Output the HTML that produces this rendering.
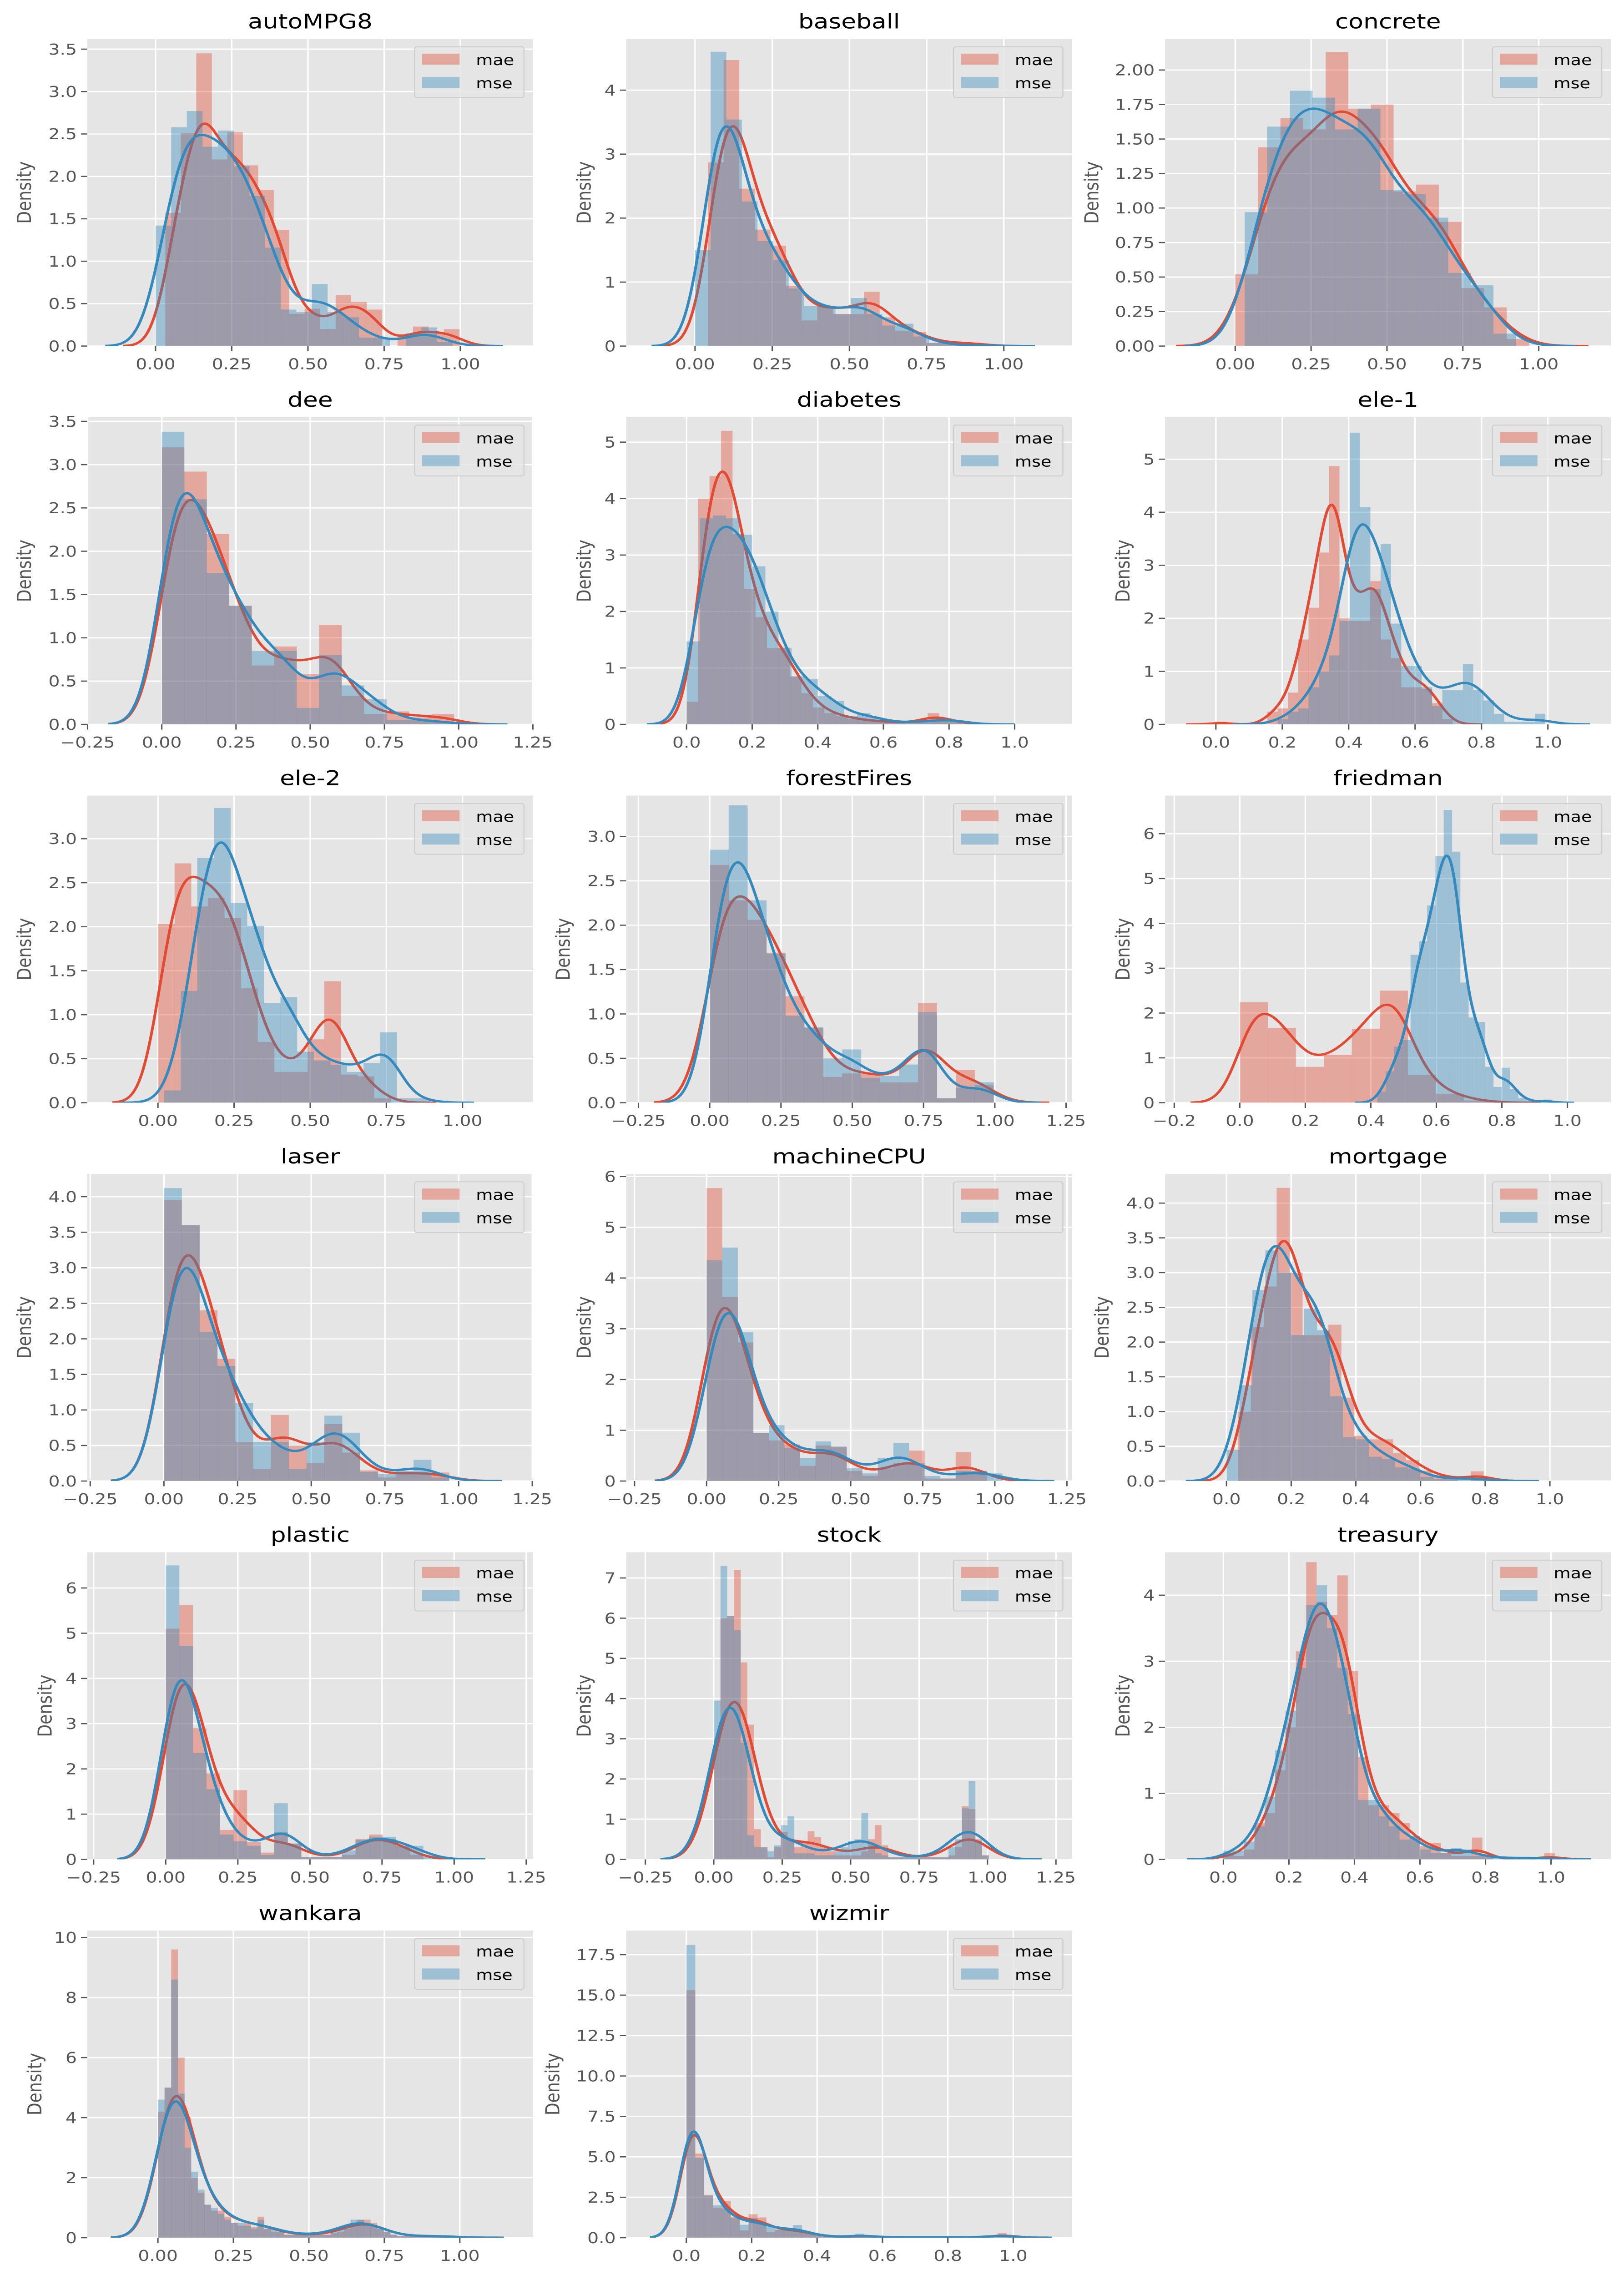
<!DOCTYPE html>
<html><head><meta charset="utf-8"><title>Density histograms</title>
<style>
html,body{margin:0;padding:0;background:#fff;width:100%;height:100%;overflow:hidden;}
svg{display:block;position:fixed;left:0;top:0;width:100vw;height:100vh;}
text{font-family:"DejaVu Sans","Liberation Sans",sans-serif;}
</style></head>
<body>
<svg id="fig" xmlns="http://www.w3.org/2000/svg" viewBox="0 0 936 1565.27" preserveAspectRatio="none">
<rect x="0" y="0" width="936" height="1565.27" fill="#ffffff"/>
</svg>
<script>
// ---------------- data (histogram bar heights) ----------------
const autoMPG8_mae = [1.57,2.51,3.45,2.2,2.52,2.13,1.84,1.37,0.38,0.44,0.2,0.6,0.52,0.43,0.0,0.12,0.23,0.15,0.2];
const autoMPG8_mse = [1.42,2.58,2.77,2.35,2.54,2.12,1.77,1.16,0.43,0.4,0.73,0.4,0.34,0.1,0.1,0.0,0.15,0.22,0.05];
const baseball_mae = [2.87,4.47,2.46,1.82,1.57,0.94,0.4,0.63,0.5,0.5,0.85,0.45,0.24,0.22,0.05,0.05,0.05,0.03];
const baseball_mse = [1.5,4.6,3.54,2.26,1.64,1.34,0.9,0.63,0.63,0.5,0.75,0.5,0.32,0.35,0.15,0.05,0.03,0.0,0.02];
const concrete_mae = [0.52,1.44,1.65,1.57,2.13,1.72,1.75,1.12,1.17,0.9,0.42,0.28,0.05];
const concrete_mse = [0.97,1.59,1.85,1.8,1.57,1.72,1.13,1.1,0.93,0.53,0.44,0.09];
const dee_mae = [3.2,2.92,2.2,1.37,0.68,0.9,0.58,1.15,0.33,0.12,0.15,0.08,0.12];
const dee_mse = [3.38,2.6,1.75,1.37,0.85,0.85,0.19,0.8,0.45,0.29,0.05,0.05,0.03];
const diabetes_mae = [0.4,4.0,4.4,5.2,3.37,2.4,1.9,1.35,1.36,0.85,0.55,0.3,0.2,0.15,0.1,0.08,0.05,0.05,0.03,0.03,0.05,0.2,0.1,0.05];
const diabetes_mse = [1.47,3.65,3.7,3.65,3.36,2.8,2.0,1.35,0.85,0.8,0.5,0.42,0.15,0.2,0.12,0.05,0.03,0.05,0.05,0.1,0.08,0.03];
const ele1_mae = [0.05,0,0,0,0,0.24,0.3,0.6,1.6,2.2,3.24,4.87,2.0,1.95,1.95,2.7,1.6,1.25,0.7,0.7,0.67,0.4,0.1];
const ele1_mse = [0,0,0,0,0,0,0.1,0.24,0.3,0.7,1.0,1.3,1.95,5.5,4.1,2.55,3.4,1.9,1.1,1.1,0.7,0.35,0.65,0.65,1.14,0.65,0.45,0.2,0.05,0.05,0.05,0.2];
const ele2_mae = [2.03,2.72,2.23,2.33,2.1,1.3,0.69,0.35,0.35,0.72,1.38,0.32,0.3,0.05];
const ele2_mse = [0.14,1.27,2.78,3.35,2.27,2.01,1.13,1.2,0.58,0.48,0.43,0.35,0.45,0.8,0.05,0.05];
const forestFires_mae = [2.68,2.28,2.06,1.69,1.2,0.84,0.29,0.33,0.32,0.23,0.23,1.12,0.05,0.37,0.2];
const forestFires_mse = [2.85,3.35,2.28,1.68,0.98,0.85,0.5,0.6,0.28,0.3,0.43,1.02,0.05,0.17,0.23];
const friedman_mae = [2.24,1.67,0.8,1.07,1.65,2.5,0.62,0.2,0.05];
const friedman_mse = [0.25,0.7,1.25,1.4,3.3,3.6,4.4,5.5,6.53,5.6,2.68,1.9,1.8,0.8,0.35,0.78,0.3,0.1,0.05,0,0.07];
const laser_mae = [3.95,3.6,2.4,1.72,0.55,0.17,0.93,0.5,0.25,0.8,0.4,0.15,0.05,0.13,0.1,0.12];
const laser_mse = [4.12,3.6,2.1,1.62,1.1,0.55,0.55,0.17,0.55,0.92,0.68,0.13,0.1,0.14,0.3,0.05];
const machineCPU_mae = [5.77,3.63,2.73,0.95,0.8,0.72,0.3,0.7,0.67,0.2,0.1,0.25,0.35,0.6,0.05,0.05,0.57,0.2];
const machineCPU_mse = [4.35,4.6,2.93,0.95,1.1,0.65,0.45,0.78,0.68,0.25,0.15,0.45,0.75,0.35,0.1,0.05,0.2,0.2,0.15];
const mortgage_mae = [1.0,2.22,2.8,4.22,3.0,2.1,2.1,2.25,1.2,0.65,0.6,0.6,0.4,0.3,0.15,0.08,0.05,0.0,0.14,0.02];
const mortgage_mse = [0.45,1.38,2.75,3.32,3.0,2.1,2.48,2.17,1.22,0.63,0.6,0.35,0.32,0.2,0.18,0.06,0.03,0.03,0.04,0.02,0.02];
const plastic_mae = [5.1,5.62,2.9,1.9,0.65,1.53,0.38,0.15,0.6,0.35,0.05,0.05,0.05,0.1,0.45,0.55,0.45,0.3,0.1];
const plastic_mse = [6.5,4.72,2.35,1.55,0.55,0.4,0.3,0.1,1.24,0.35,0.05,0.05,0.05,0.2,0.43,0.5,0.5,0.3,0.3,0.05];
const stock_mae = [3.0,6.0,6.05,7.2,4.9,3.35,0.75,0.3,0.05,0.3,0.68,0.5,0.3,0.4,0.7,0.55,0.3,0.2,0.1,0.1,0.1,0.1,0.2,0.5,0.85,0.35,0.05,0.05,0.05,0.05,0.05,0.05,0.05,0.05,0.05,0.1,0.3,1.32,1.25,0.5,0.1];
const stock_mse = [3.95,7.3,6.05,5.7,2.9,0.6,0.3,0.3,0.2,0.35,0.85,1.07,0.15,0.15,0.15,0.1,0.1,0.1,0.2,0.3,0.45,0.5,1.15,0.4,0.15,0.1,0.05,0.05,0.05,0.05,0.05,0.05,0.05,0.05,0.05,0.3,0.5,1.27,1.95,0.45,0.1];
const treasury_mae = [0.1,0.05,0.15,0.55,0.7,1.35,2.0,3.15,4.5,3.9,3.7,4.3,2.85,1.55,0.82,0.82,0.7,0.55,0.35,0.2,0.25,0.1,0.05,0.05,0.33,0.05,0,0,0,0,0,0.1];
const treasury_mse = [0.13,0.13,0.27,0.5,0.95,1.65,2.25,2.9,3.85,4.15,3.5,2.9,2.2,0.9,0.9,0.65,0.5,0.3,0.35,0.15,0.1,0.1,0.17,0.15,0.05,0.05,0.02,0.02,0.02,0.02,0.02,0.02];
const wankara_mae = [4.2,5.0,9.6,6.0,4.0,2.0,1.5,1.1,0.9,0.9,0.7,0.5,0.4,0.5,0.35,0.7,0.3,0.2,0.2,0.1,0.1,0.1,0.1,0.1,0.1,0.1,0.15,0.2,0.3,0.5,0.6,0.6,0.5,0.3,0.2,0.1,0.05,0.05,0.05,0.05,0.05,0.05,0.05,0.05,0.05];
const wankara_mse = [4.6,5.0,8.6,4.8,3.0,2.2,1.6,1.1,1.0,0.8,0.6,0.5,0.5,0.4,0.3,0.6,0.3,0.3,0.2,0.1,0.1,0.1,0.1,0.1,0.1,0.1,0.2,0.3,0.4,0.6,0.6,0.5,0.4,0.3,0.2,0.1,0.05,0.05,0.05,0.05,0.05,0.05,0.05,0.05,0.05];
const wizmir_mae = [15.3,5.2,2.65,1.85,2.28,1.3,0.45,1.45,1.25,0.35,0.5,0.5,0.45,0.3,0.2,0.1,0.05,0.05,0.05,0.1,0.15,0.02,0.02,0.02,0.02,0.02,0.02,0.02,0.02,0.02,0.02,0.02,0.02,0.02,0.02,0.3,0.1];
const wizmir_mse = [18.1,4.95,2.6,2.0,1.8,1.2,0.8,1.2,0.95,0.7,0.5,0.5,0.78,0.3,0.2,0.1,0.05,0.05,0.05,0.25,0.1,0.03,0.03,0.03,0.03,0.03,0.03,0.03,0.03,0.03,0.03,0.03,0.03,0.03,0.1,0.2,0.1];

// tick label arrays
const ticks_q = ["0.00","0.25","0.50","0.75","1.00"];
const ticks_q_wide = ["\u22120.25","0.00","0.25","0.50","0.75","1.00","1.25"];
const ticks_f = ["0.0","0.2","0.4","0.6","0.8","1.0"];
const ticks_f_neg = ["\u22120.2","0.0","0.2","0.4","0.6","0.8","1.0"];
const y_half_35 = ["0.0","0.5","1.0","1.5","2.0","2.5","3.0","3.5"];
const y_half_30 = ["0.0","0.5","1.0","1.5","2.0","2.5","3.0"];
const y_half_40 = ["0.0","0.5","1.0","1.5","2.0","2.5","3.0","3.5","4.0"];
const y_int_4 = ["0","1","2","3","4"];
const y_int_5 = ["0","1","2","3","4","5"];
const y_int_6 = ["0","1","2","3","4","5","6"];
const y_int_7 = ["0","1","2","3","4","5","6","7"];
const y_quarter_200 = ["0.00","0.25","0.50","0.75","1.00","1.25","1.50","1.75","2.00"];
const y_even_10 = ["0","2","4","6","8","10"];
const y_wizmir = ["0.0","2.5","5.0","7.5","10.0","12.5","15.0","17.5"];

const datasets = ["autoMPG8","baseball","concrete","dee","diabetes","ele-1","ele-2","forestFires","friedman","laser","machineCPU","mortgage","plastic","stock","treasury","wankara","wizmir"];

// per-panel settings: axis limits, bin origin/width, kde bandwidth
const charts = [
 {name:"autoMPG8",xlim:[-0.224,1.239],ymax:3.62,xt:ticks_q,yt:y_half_35,mae:autoMPG8_mae,maeS:0.032,maeW:0.0508,mse:autoMPG8_mse,mseS:0.0,mseW:0.0513,hA:0.046,hB:0.055},
 {name:"baseball",xlim:[-0.223,1.221],ymax:4.80,xt:ticks_q,yt:y_int_4,mae:baseball_mae,maeS:0.042,maeW:0.0505,mse:baseball_mse,mseS:0.0,mseW:0.0505,hA:0.05,hB:0.047},
 {name:"concrete",xlim:[-0.231,1.238],ymax:2.225,xt:ticks_q,yt:y_quarter_200,mae:concrete_mae,maeS:0.0,maeW:0.0745,mse:concrete_mse,mseS:0.031,mseW:0.0745,hA:0.065,hB:0.065},
 {name:"dee",xlim:[-0.251,1.251],ymax:3.547,xt:ticks_q_wide,yt:y_half_35,mae:dee_mae,maeS:0.0,maeW:0.0757,mse:dee_mse,mseS:0.0,mseW:0.0757,hA:0.06,hB:0.06},
 {name:"diabetes",xlim:[-0.184,1.175],ymax:5.44,xt:ticks_f,yt:y_int_5,mae:diabetes_mae,maeS:0.0,maeW:0.035,mse:diabetes_mse,mseS:0.0,mseW:0.04,hA:0.038,hB:0.04},
 {name:"ele-1",xlim:[-0.153,1.19],ymax:5.79,xt:ticks_f,yt:y_int_5,mae:ele1_mae,maeS:0.0,maeW:0.031,mse:ele1_mse,mseS:0.0,mseW:0.031,hA:0.03,hB:0.045},
 {name:"ele-2",xlim:[-0.232,1.232],ymax:3.49,xt:ticks_q,yt:y_half_30,mae:ele2_mae,maeS:0.0,maeW:0.0546,mse:ele2_mse,mseS:0.02,mseW:0.0546,hA:0.05,hB:0.048},
 {name:"forestFires",xlim:[-0.293,1.271],ymax:3.46,xt:ticks_q_wide,yt:y_half_30,mae:forestFires_mae,maeS:0.0,maeW:0.0664,mse:forestFires_mse,mseS:0.0,mseW:0.0664,hA:0.065,hB:0.055},
 {name:"friedman",xlim:[-0.228,1.133],ymax:6.85,xt:ticks_f_neg,yt:y_int_6,mae:friedman_mae,maeS:0.0,maeW:0.0855,mse:friedman_mse,mseS:0.42,mseW:0.0253,hA:0.05,hB:0.023},
 {name:"laser",xlim:[-0.26,1.253],ymax:4.32,xt:ticks_q_wide,yt:y_half_40,mae:laser_mae,maeS:0.0,maeW:0.0605,mse:laser_mse,mseS:0.0,mseW:0.0605,hA:0.06,hB:0.06},
 {name:"machineCPU",xlim:[-0.279,1.268],ymax:6.05,xt:ticks_q_wide,yt:y_int_6,mae:machineCPU_mae,maeS:0.0,maeW:0.054,mse:machineCPU_mse,mseS:0.0,mseW:0.054,hA:0.06,hB:0.06},
 {name:"mortgage",xlim:[-0.19,1.189],ymax:4.42,xt:ticks_f,yt:y_half_40,mae:mortgage_mae,maeS:0.035,maeW:0.04,mse:mortgage_mse,mseS:0.0,mseW:0.04,hA:0.04,hB:0.042},
 {name:"plastic",xlim:[-0.272,1.274],ymax:6.79,xt:ticks_q_wide,yt:y_int_6,mae:plastic_mae,maeS:0.0,maeW:0.047,mse:plastic_mse,mseS:0.0,mseW:0.047,hA:0.056,hB:0.056},
 {name:"stock",xlim:[-0.32,1.309],ymax:7.64,xt:ticks_q_wide,yt:y_int_7,mae:stock_mae,maeS:0.0,maeW:0.0245,mse:stock_mse,mseS:0.0,mseW:0.0245,hA:0.065,hB:0.065},
 {name:"treasury",xlim:[-0.178,1.183],ymax:4.65,xt:ticks_f,yt:y_int_4,mae:treasury_mae,maeS:0.0,maeW:0.0316,mse:treasury_mse,mseS:0.0,mseW:0.0316,hA:0.037,hB:0.037},
 {name:"wankara",xlim:[-0.234,1.243],ymax:10.23,xt:ticks_q,yt:y_even_10,mae:wankara_mae,maeS:0.0,maeW:0.022,mse:wankara_mse,mseS:0.0,mseW:0.022,hA:0.052,hB:0.052},
 {name:"wizmir",xlim:[-0.184,1.18],ymax:18.99,xt:ticks_f,yt:y_wizmir,mae:wizmir_mae,maeS:0.0,maeW:0.0272,mse:wizmir_mse,mseS:0.0,mseW:0.0272,hA:0.037,hB:0.037}
];

// ---------------- drawing ----------------
const NS = "http://www.w3.org/2000/svg";
const svg = document.getElementById("fig");
const RED = "#E24A33", BLUE = "#348ABD";
const colLeft = [50.3, 360.9, 671.5];
const AW = 257, AH = 211.3, TOP0 = 26.8, ROWSTEP = 260.3;

function mk(tag, attrs, parent){
  const e = document.createElementNS(NS, tag);
  for (const k in attrs) e.setAttribute(k, attrs[k]);
  (parent || svg).appendChild(e);
  return e;
}
function erf(x){
  const s = x < 0 ? -1 : 1; x = Math.abs(x);
  const t = 1/(1+0.3275911*x);
  const y = 1-(((((1.061405429*t-1.453152027)*t)+1.421413741)*t-0.284496736)*t+0.254829592)*t*Math.exp(-x*x);
  return s*y;
}
function Phi(z){ return 0.5*(1+erf(z/Math.SQRT2)); }
function kdeAt(S, W, H, h, x){
  let s = 0, tot = 0;
  for (let i = 0; i < H.length; i++){
    if (!H[i]) continue;
    const l = S + i*W, r = l + W;
    s += H[i]*(Phi((r-x)/h) - Phi((l-x)/h));
    tot += H[i]*W;
  }
  return tot > 0 ? s/tot : 0;
}
function tickVal(label){ return parseFloat(label.replace("\u2212","-")); }

charts.forEach(function(c, idx){
  const row = Math.floor(idx/3), col = idx % 3;
  const L = colLeft[col], T = TOP0 + row*ROWSTEP, R = L + AW, B = T + AH;
  const xs = v => L + (v - c.xlim[0])/(c.xlim[1]-c.xlim[0])*AW;
  const ys = v => B - v/c.ymax*AH;
  const slug = c.name.toLowerCase();

  const g = mk("g", {});
  
  

  const bg = mk("rect", {x:L, y:T, width:AW, height:AH, fill:"#E5E5E5"}, g);
  
  

  const grid = mk("g", {stroke:"#ffffff", "stroke-width":0.85}, g);
  
  
  c.xt.forEach(function(t){
    const x = xs(tickVal(t));
    mk("line", {x1:x, x2:x, y1:T, y2:B}, grid);
  });
  c.yt.forEach(function(t){
    const y = ys(tickVal(t));
    mk("line", {x1:L, x2:R, y1:y, y2:y}, grid);
  });

  const clipId = "clip" + idx;
  const cp = mk("clipPath", {id:clipId}, g);
  mk("rect", {x:L, y:T, width:AW, height:AH}, cp);
  const plot = mk("g", {"clip-path":"url(#"+clipId+")"}, g);
  
  

  function hist(H, S, W, color, label){
    const hg = mk("g", {fill:color, "fill-opacity":0.4}, plot);
    
    
    H.forEach(function(v, i){
      if (!v) return;
      const x0 = xs(S + i*W), x1 = xs(S + (i+1)*W);
      const bar = mk("rect", {x:x0, y:ys(v), width:Math.max(0, x1-x0+0.05), height:B - ys(v)}, hg);
      
      
    });
  }
  function kde(H, S, W, h, color, label){
    let first = -1, last = -1;
    H.forEach(function(v, i){ if (v){ if (first < 0) first = i; last = i; } });
    const lo = Math.max(S + first*W - 3*h, c.xlim[0]);
    const hi = Math.min(S + (last+1)*W + 3*h, c.xlim[1]);
    const n = 240; let d = "";
    for (let k = 0; k <= n; k++){
      const x = lo + (hi-lo)*k/n;
      const y = kdeAt(S, W, H, h, x);
      d += (k ? "L" : "M") + xs(x).toFixed(2) + "," + ys(y).toFixed(2);
    }
    const p = mk("path", {d:d, fill:"none", stroke:color, "stroke-width":1.6, "stroke-linejoin":"round"}, plot);
    
    
  }
  hist(c.mae, c.maeS, c.maeW, RED, "mae");
  kde(c.mae, c.maeS, c.maeW, c.hA, RED, "mae");
  hist(c.mse, c.mseS, c.mseW, BLUE, "mse");
  kde(c.mse, c.mseS, c.mseW, c.hB, BLUE, "mse");

  const xax = mk("g", {}, g);
  
  
  c.xt.forEach(function(t){
    const x = xs(tickVal(t));
    mk("line", {x1:x, x2:x, y1:B, y2:B+3.6, stroke:"#555555", "stroke-width":0.8}, xax);
    const tx = mk("text", {x:x, y:B+16, "text-anchor":"middle", "font-size":10.3, fill:"#555555"}, xax);
    tx.textContent = t;
    
    
  });
  const yax = mk("g", {}, g);
  
  
  let maxChars = 0;
  c.yt.forEach(function(t){
    const y = ys(tickVal(t));
    maxChars = Math.max(maxChars, t.length);
    mk("line", {x1:L-3.6, x2:L, y1:y, y2:y, stroke:"#555555", "stroke-width":0.8}, yax);
    const ty = mk("text", {x:L-6, y:y+3.7, "text-anchor":"end", "font-size":10.3, fill:"#555555"}, yax);
    ty.textContent = t;
    
    
  });
  const off = 18.5 + 6.0*maxChars;
  const yl = mk("text", {x:0, y:0, transform:"translate(" + (L-off+4) + "," + (T+AH/2) + ") rotate(-90)", "text-anchor":"middle", "font-size":11.3, fill:"#555555"}, g);
  yl.textContent = "Density";
  
  

  const title = mk("text", {x:L+AW/2, y:T-7.2, "text-anchor":"middle", "font-size":14, fill:"#000000"}, g);
  title.textContent = c.name;
  
  

  const lg = mk("g", {}, g);
  
  
  const lx = R - 5.3 - 63, ly = T + 5.4;
  mk("rect", {x:lx, y:ly, width:63, height:35, rx:1.5, fill:"#E5E5E5", "fill-opacity":0.8, stroke:"#cccccc", "stroke-width":0.6}, lg);
  [["mae", RED, 0], ["mse", BLUE, 1]].forEach(function(e){
    const ey = ly + 4.7 + e[2]*16;
    const le = mk("g", {}, lg);
    
    
    mk("rect", {x:lx+4.3, y:ey, width:21.6, height:7.6, fill:e[1], "fill-opacity":0.4}, le);
    const lt = mk("text", {x:lx+35.3, y:ey+7.8, "font-size":10, fill:"#000000"}, le);
    lt.textContent = e[0];
  });
});
</script>
</body></html>
